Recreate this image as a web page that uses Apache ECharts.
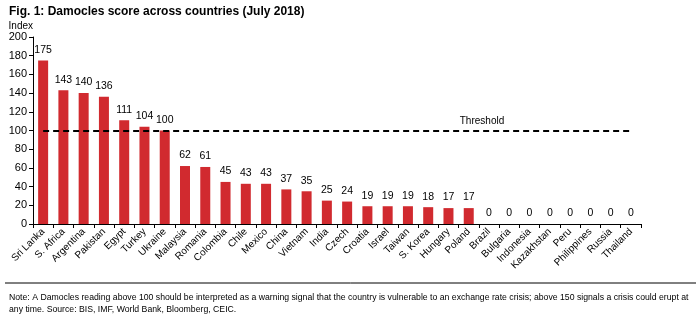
<!DOCTYPE html>
<html><head><meta charset="utf-8">
<script src="https://cdn.jsdelivr.net/npm/echarts@6/dist/echarts.min.js"></script>
<style>html,body{margin:0;padding:0;background:#fff}#c{width:700px;height:321px}</style>
</head><body><div id="c"></div>
<script>
var categories = ['Sri Lanka','S. Africa','Argentina','Pakistan','Egypt','Turkey','Ukraine','Malaysia','Romania','Colombia','Chile','Mexico','China','Vietnam','India','Czech','Croatia','Israel','Taiwan','S. Korea','Hungary','Poland','Brazil','Bulgaria','Indonesia','Kazakhstan','Peru','Philippines','Russia','Thailand'];
var scores = [175,143,140,136,111,104,100,62,61,45,43,43,37,35,25,24,19,19,19,18,17,17,0,0,0,0,0,0,0,0];
var yTicks = [0,20,40,60,80,100,120,140,160,180,200];
var threshold = 100;
var titleText = 'Fig. 1: Damocles score across countries (July 2018)';
var noteText = 'Note: A Damocles reading above 100 should be interpreted as a warning signal that the country is vulnerable to an exchange rate crisis; above 150 signals a crisis could erupt at\nany time. Source: BIS, IMF, World Bank, Bloomberg, CEIC.';

var FONT = '"Liberation Sans", Arial, sans-serif';
var chart = echarts.init(document.getElementById('c'), null, {renderer:'canvas'});
chart.setOption({
  animation: false,
  textStyle: {fontFamily: FONT},
  title: [
    {text: titleText, left: 4, top: 1, textStyle: {fontFamily: FONT, fontSize: 12, fontWeight: 'bold', color: '#000'}},
    {text: noteText, left: 4, top: 287, textStyle: {fontFamily: FONT, fontSize: 8.7, fontWeight: 'normal', color: '#000', lineHeight: 12}}
  ],
  graphic: [
    {type: 'line', shape: {x1: 5, y1: 283, x2: 696, y2: 283}, style: {stroke: '#000', lineWidth: 1}}
  ],
  grid: {left: 33, right: 59, top: 37, bottom: 97, containLabel: false},
  xAxis: {
    type: 'category', data: categories,
    axisLine: {lineStyle: {color: '#000', width: 1}},
    axisTick: {show: true, alignWithLabel: false, length: 4, lineStyle: {color: '#000'}},
    axisLabel: {rotate: 45, interval: 0, fontSize: 10, color: '#000', fontFamily: FONT, margin: 6}
  },
  yAxis: {
    type: 'value', min: 0, max: 200, interval: 20,
    name: 'Index', nameLocation: 'end', nameGap: 5,
    nameTextStyle: {fontSize: 10, color: '#000', align: 'right'},
    axisLine: {show: true, lineStyle: {color: '#000', width: 1}},
    axisTick: {show: true, length: 4, lineStyle: {color: '#000'}},
    splitLine: {show: false},
    axisLabel: {fontSize: 11, color: '#000', margin: 6, fontFamily: FONT,
      formatter: function(v){ return yTicks.indexOf(v) >= 0 ? String(v) : ''; }}
  },
  series: [{
    type: 'bar', data: scores, barWidth: 10,
    itemStyle: {color: '#d12a2f'},
    label: {show: true, position: 'top', distance: 5, fontSize: 10.5, color: '#000', fontFamily: FONT},
    markLine: {
      silent: true, symbol: ['none','none'],
      lineStyle: {color: '#000', type: [6, 4], width: 2},
      label: {show: false},
      data: [[{coord: [categories[0], threshold]}, {coord: [categories[categories.length-1], threshold]}]]
    },
    markPoint: {
      symbol: 'circle', symbolSize: 0,
      label: {show: true, formatter: 'Threshold', fontSize: 10, color: '#000', fontFamily: FONT, position: 'top', distance: 4, offset: [-7, 0]},
      data: [{coord: ['Brazil', threshold]}]
    }
  }]
});
</script></body></html>
